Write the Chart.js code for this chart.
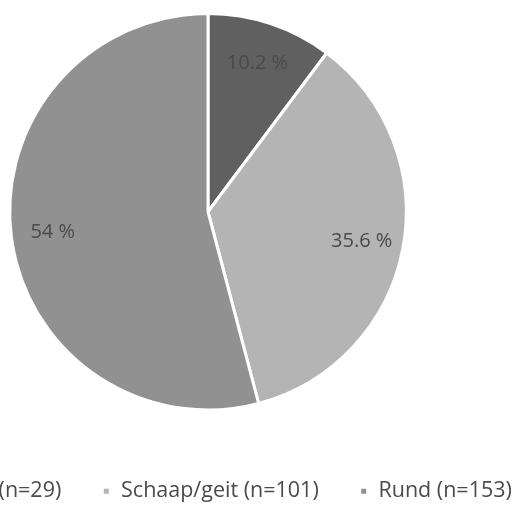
<!DOCTYPE html>
<html>
<head>
<meta charset="utf-8">
<script src="https://cdn.jsdelivr.net/npm/chart.js@4.4.1/dist/chart.umd.min.js"></script>
<style>
  html, body { margin: 0; padding: 0; background: #ffffff; overflow: hidden; }
  body { width: 516px; height: 508px; position: relative; }
  #wrap { position: absolute; left: -172px; top: 4px; width: 760px; height: 508px; }
</style>
</head>
<body>
<div id="wrap"><canvas id="pie"></canvas></div>
<script>
// Share of cases per animal group
const categories = ['Varken (n=29)', 'Schaap/geit (n=101)', 'Rund (n=153)'];
const percentages = [10.2, 35.6, 54];
const percentLabels = ['10.2 %', '35.6 %', '54 %'];
const sliceColors = ['#606060', '#b4b4b4', '#919191'];

const FONT = '"Open Sans", sans-serif';

// Draws the percentage text inside each slice, along its middle angle
const sliceLabels = {
  id: 'sliceLabels',
  afterDatasetsDraw(chart) {
    const ctx = chart.ctx;
    const arcs = chart.getDatasetMeta(0).data;
    ctx.save();
    ctx.font = '20px ' + FONT;
    ctx.fillStyle = '#4a4a4a';
    ctx.textAlign = 'center';
    ctx.textBaseline = 'middle';
    arcs.forEach((arc, i) => {
      const p = arc.getProps(['x', 'y', 'startAngle', 'endAngle', 'outerRadius'], true);
      const mid = (p.startAngle + p.endAngle) / 2;
      const r = p.outerRadius * 0.79;
      ctx.fillText(percentLabels[i], p.x + Math.cos(mid) * r, p.y + Math.sin(mid) * r);
    });
    ctx.restore();
  }
};

new Chart(document.getElementById('pie'), {
  type: 'pie',
  data: {
    labels: categories,
    datasets: [{
      data: percentages,
      backgroundColor: sliceColors,
      borderColor: '#ffffff',
      borderWidth: 3
    }]
  },
  options: {
    responsive: true,
    maintainAspectRatio: false,
    animation: false,
    layout: { padding: { top: 8, bottom: 0 } },
    plugins: {
      tooltip: { enabled: false },
      legend: {
        position: 'bottom',
        title: { display: true, text: '', font: { size: 10 }, padding: 8 },
        labels: {
          font: { family: FONT, size: 21.5 },
          color: '#4a4a4a',
          boxWidth: 8,
          boxHeight: 8,
          padding: 41
        }
      }
    }
  },
  plugins: [sliceLabels]
});
</script>
</body>
</html>
